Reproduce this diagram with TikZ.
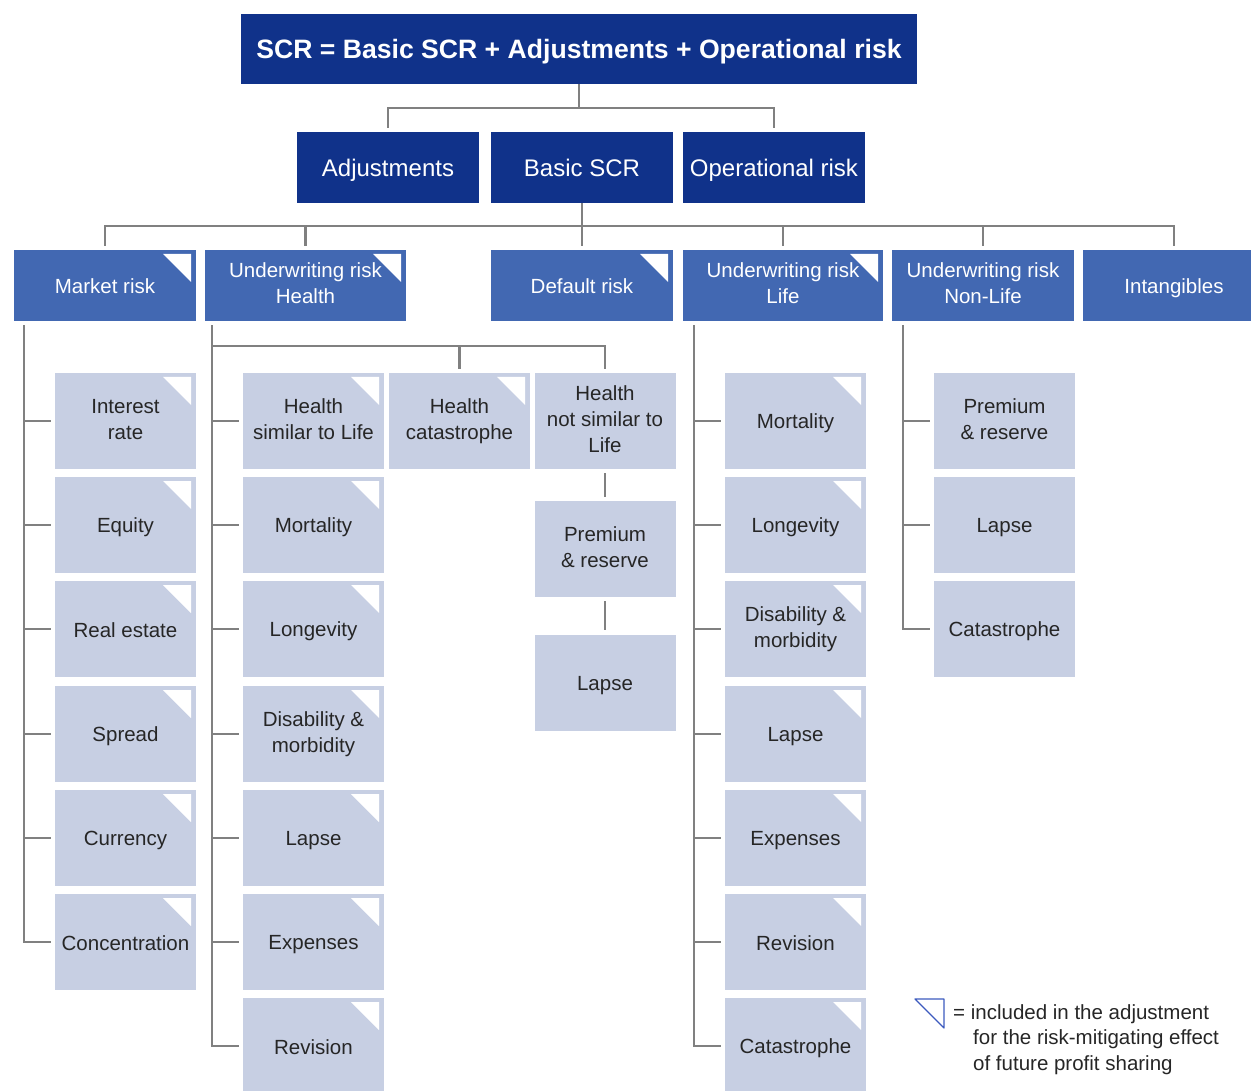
\documentclass[tikz,border=0pt]{standalone}
\usepackage{fontspec}
\setmainfont{Liberation Sans}
\usetikzlibrary{positioning,calc}
\definecolor{scrblue}{RGB}{16,50,138}
\definecolor{riskblue}{RGB}{66,104,178}
\definecolor{subgray}{RGB}{199,207,227}
\definecolor{linegray}{RGB}{128,128,128}
\definecolor{fpsblue}{RGB}{60,90,190}
\newcommand{\boxstrut}[2]{\rule[-#1]{0pt}{#2}}
\tikzstyle{box}=[inner sep=0pt, align=center, minimum height=71pt,
		execute at begin node=\boxstrut{4pt}{24pt}, execute at end node=\boxstrut{4pt}{24pt}]
\tikzstyle{scrbox}=[box, fill=scrblue, text=white, minimum width=676pt, minimum height=70pt,
		font=\fontsize{26.6}{30}\selectfont\bfseries,
		execute at begin node=\boxstrut{4pt}{29pt}, execute at end node=\boxstrut{4pt}{29pt}]
\tikzstyle{modbox}=[box, fill=scrblue, text=white, minimum width=182pt,
		font=\fontsize{24}{28}\selectfont,
		execute at begin node=\boxstrut{4pt}{26pt}, execute at end node=\boxstrut{4pt}{26pt}]
\tikzstyle{riskbox}=[box, fill=riskblue, text=white, minimum width=182pt,
		font=\fontsize{20.5}{26}\selectfont]
\tikzstyle{subbox}=[box, fill=subgray, text=black!85, minimum width=141pt, minimum height=96pt,
		font=\fontsize{20.5}{26}\selectfont]
\tikzstyle{fps}=[path picture={\fill[white] ([xshift=-33pt,yshift=-4pt]path picture bounding box.north east)
		-- ++(28pt,0) -- ++(0,-28pt) -- cycle;}]
\tikzstyle{conn}=[draw=linegray, line width=2.5pt, shorten >=4pt]
\tikzstyle{legend}=[inner sep=0pt, align=left, text=black!85, font=\fontsize{20.5}{25.5}\selectfont]

\begin{document}
\begin{tikzpicture}[x=1pt, y=-1pt]
                \useasboundingbox (0,0) rectangle (1251,1091);
                \node[scrbox] (scr) at (579,49) {SCR = Basic SCR + Adjustments + Operational risk};
                \node[modbox] (adj) at (388,167.5) {Adjustments};
                \node[modbox] (bscr) at (582,167.5) {Basic SCR};
                \node[modbox] (op) at (774,167.5) {Operational risk};
                % risk modules
                \node[riskbox, fps] (mkt) at (105,285.5) {Market risk};
                \node[riskbox, fps, minimum width=201pt] (hlt) at (305.5,285.5) {Underwriting risk\\Health};
                \node[riskbox, fps] (def) at (582,285.5) {Default risk};
                \node[riskbox, fps, minimum width=200pt] (life) at (783,285.5) {Underwriting risk\\Life};
                \node[riskbox] (nl) at (983,285.5) {Underwriting risk\\Non-Life};
                \node[riskbox] (intang) at (1174,285.5) {Intangibles};
                % market
                \node[subbox, fps] (ir) at (125.5,421) {Interest\\rate};
                \node[subbox, fps] (eq) at (125.5,525) {Equity};
                \node[subbox, fps] (re) at (125.5,629) {Real estate};
                \node[subbox, fps] (spr) at (125.5,734) {Spread};
                \node[subbox, fps] (cur) at (125.5,838) {Currency};
                \node[subbox, fps] (conc) at (125.5,942) {Concentration};
                % health
                \node[subbox, fps] (hsla) at (313.5,421) {Health\\similar to Life};
                \node[subbox, fps] (hmort) at (313.5,525) {Mortality};
                \node[subbox, fps] (hlong) at (313.5,629) {Longevity};
                \node[subbox, fps] (hdis) at (313.5,734) {Disability \&\\morbidity};
                \node[subbox, fps] (hlapse) at (313.5,838) {Lapse};
                \node[subbox, fps] (hexp) at (313.5,942) {Expenses};
                \node[subbox, fps] (hrev) at (313.5,1046) {Revision};
                \node[subbox, fps] (hcat) at (459.5,421) {Health\\catastrophe};
                \node[subbox] (nslt) at (605,421) {Health\\not similar to\\Life};
                \node[subbox] (nsprem) at (605,549) {Premium\\\& reserve};
                \node[subbox] (nslapse) at (605,682.5) {Lapse};
                % life
                \node[subbox, fps] (lmort) at (795.5,421) {Mortality};
                \node[subbox, fps] (llong) at (795.5,525) {Longevity};
                \node[subbox, fps] (ldis) at (795.5,629) {Disability \&\\morbidity};
                \node[subbox, fps] (llapse) at (795.5,734) {Lapse};
                \node[subbox, fps] (lexp) at (795.5,838) {Expenses};
                \node[subbox, fps] (lrev) at (795.5,942) {Revision};
                \node[subbox, fps] (lcat) at (795.5,1046) {Catastrophe};
                % non-life
                \node[subbox] (nprem) at (1004.5,421) {Premium\\\& reserve};
                \node[subbox] (nlapse) at (1004.5,525) {Lapse};
                \node[subbox] (ncat) at (1004.5,629) {Catastrophe};
                % connectors
                \draw[conn] (scr.south) -- ++(0,24) -| (adj.north);
                \draw[conn] (scr.south) -- ++(0,24) -| (op.north);
                \foreach \n in {mkt,hlt,def,life,nl,intang}
                    \draw[conn] (bscr.south) -- ++(0,23) -| (\n.north);
                \coordinate (mkts) at ([xshift=-31pt]ir.west |- mkt.south);
                \coordinate (hlts) at ([xshift=-31pt]hsla.west |- hlt.south);
                \coordinate (lifes) at ([xshift=-31pt]lmort.west |- life.south);
                \coordinate (nls) at ([xshift=-31pt]nprem.west |- nl.south);
                \draw[conn, shorten <=4pt] (mkts) |- (conc.west);
                \draw[conn, shorten <=4pt] (hlts) |- (hrev.west);
                \draw[conn, shorten <=4pt] (lifes) |- (lcat.west);
                \draw[conn, shorten <=4pt] (nls) |- (ncat.west);
                \foreach \n in {ir,eq,re,spr,cur} \draw[conn] (mkts |- \n.west) -- (\n.west);
                \foreach \n in {hsla,hmort,hlong,hdis,hlapse,hexp} \draw[conn] (hlts |- \n.west) -- (\n.west);
                \foreach \n in {lmort,llong,ldis,llapse,lexp,lrev} \draw[conn] (lifes |- \n.west) -- (\n.west);
                \foreach \n in {nprem,nlapse} \draw[conn] (nls |- \n.west) -- (\n.west);
                \draw[conn] ([yshift=-25pt]hlt.south -| hlts) -| (nslt.north);
                \draw[conn] ([yshift=-25pt]hlt.south -| hcat.north) -- (hcat.north);
                \draw[conn, shorten <=4pt] (nslt.south) -- (nsprem.north);
                \draw[conn, shorten <=4pt] (nsprem.south) -- (nslapse.north);
                % key
                \coordinate (key) at (915,999);
                \draw[fpsblue, line width=1.2pt, line join=round] (key) -- ++(29,0) -- ++(0,29) -- cycle;
                \node[legend, anchor=north west] (keytext) at (953,1004) {= included in the adjustment\\
                    \hspace*{20pt}for the risk-mitigating effect\\\hspace*{20pt}of future profit sharing};
\end{tikzpicture}
\end{document}
